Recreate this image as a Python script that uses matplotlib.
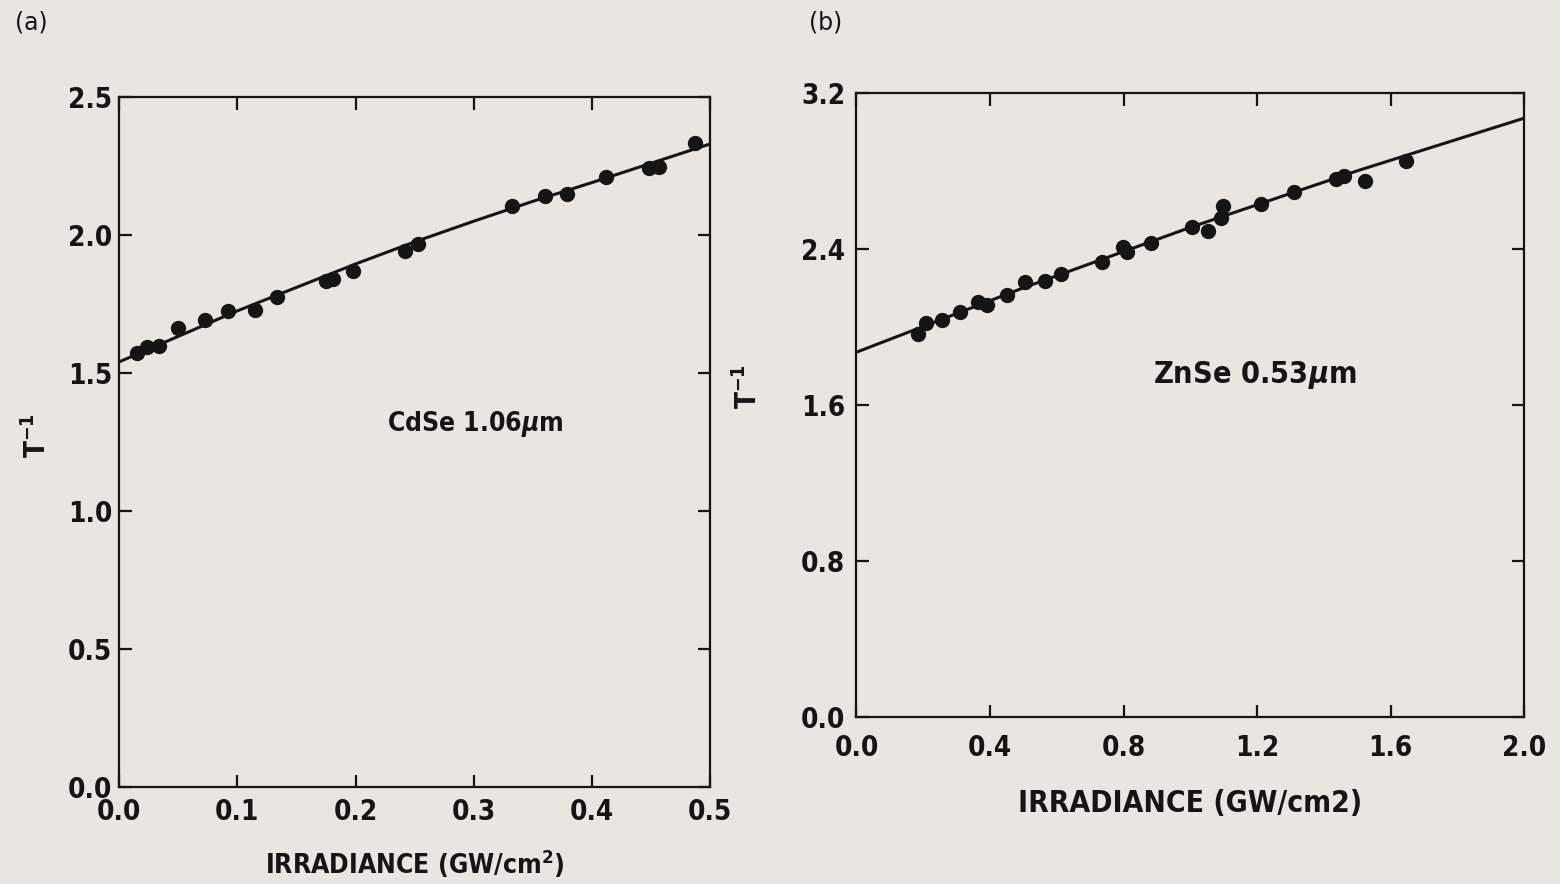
import numpy as np
import matplotlib.pyplot as plt

# (a) CdSe at 1.06 um
cdse_x = [0.015, 0.024, 0.034, 0.050, 0.073, 0.092, 0.115, 0.134, 0.175, 0.181,
          0.198, 0.242, 0.253, 0.332, 0.360, 0.379, 0.412, 0.448, 0.457, 0.487]
cdse_y = [1.572, 1.593, 1.599, 1.663, 1.693, 1.726, 1.730, 1.775, 1.833, 1.841,
          1.869, 1.942, 1.966, 2.106, 2.140, 2.148, 2.209, 2.243, 2.248, 2.334]
cdse_fit_x = [0.0, 0.1, 0.2, 0.25, 0.3, 0.35, 0.4, 0.5]
cdse_fit_y = [1.54, 1.725, 1.895, 1.975, 2.05, 2.122, 2.19, 2.33]

# (b) ZnSe at 0.53 um
znse_x = [0.183, 0.208, 0.257, 0.309, 0.363, 0.392, 0.452, 0.505, 0.566, 0.613,
          0.736, 0.799, 0.811, 0.882, 1.006, 1.052, 1.092, 1.098, 1.213, 1.310,
          1.436, 1.459, 1.522, 1.645]
znse_y = [1.965, 2.019, 2.036, 2.078, 2.130, 2.113, 2.164, 2.232, 2.237, 2.272,
          2.335, 2.412, 2.386, 2.432, 2.514, 2.489, 2.557, 2.621, 2.631, 2.689,
          2.758, 2.774, 2.750, 2.848]
znse_fit_x = [0.0, 0.5, 1.0, 1.5, 2.0]
znse_fit_y = [1.87, 2.20, 2.51, 2.80, 3.07]

bg = '#e9e5e0'
ink = '#151515'
plt.rcParams['font.family'] = ['DejaVu Sans']
plt.rcParams['font.stretch'] = 'condensed'
plt.rcParams['font.weight'] = 'bold'
plt.rcParams['axes.labelweight'] = 'bold'
plt.rcParams['mathtext.fontset'] = 'dejavusans'
plt.rcParams['mathtext.default'] = 'bf'

fig = plt.figure(figsize=(15.6, 8.84), dpi=100, facecolor=bg)
ax1 = fig.add_axes([0.0763, 0.1097, 0.379, 0.7806])
ax2 = fig.add_axes([0.549, 0.189, 0.428, 0.706])


def style(ax):
    ax.set_facecolor(bg)
    for s in ax.spines.values():
        s.set_linewidth(1.6)
        s.set_color(ink)
    ax.tick_params(direction='in', length=9, width=1.6, color=ink,
                   top=True, right=True, labelsize=20, labelcolor=ink)


#####################################################################
# panel (a)
#####################################################################
style(ax1)
ax1.plot(cdse_fit_x, cdse_fit_y, color=ink, lw=2.2)
ax1.plot(cdse_x, cdse_y, 'o', color=ink, ms=10)
ax1.set_xlim(0, 0.5)
ax1.set_ylim(0, 2.5)
ax1.set_xticks([0.0, 0.1, 0.2, 0.3, 0.4, 0.5])
ax1.set_yticks([0.0, 0.5, 1.0, 1.5, 2.0, 2.5])
ax1.xaxis.set_major_formatter(plt.FormatStrFormatter('%.1f'))
ax1.yaxis.set_major_formatter(plt.FormatStrFormatter('%.1f'))
ax1.tick_params(axis='x', pad=8)
ax1.tick_params(axis='y', pad=5)
ax1.set_xlabel('IRRADIANCE (GW/cm$^2$)', fontsize=19, color=ink)
ax1.xaxis.set_label_coords(0.5, -0.087)
ax1.set_ylabel('T$^{-1}$', fontsize=20, color=ink)
ax1.yaxis.set_label_coords(-0.113, 0.51)
ax1.text(0.301, 1.317, 'CdSe 1.06$\\mathit{\\mu}$m', fontsize=19, color=ink,
         ha='center', va='center')

#####################################################################
# panel (b)
#####################################################################
style(ax2)
ax2.plot(znse_fit_x, znse_fit_y, color=ink, lw=2.2)
ax2.plot(znse_x, znse_y, 'o', color=ink, ms=10)
ax2.set_xlim(0, 2.0)
ax2.set_ylim(0, 3.2)
ax2.set_xticks([0.0, 0.4, 0.8, 1.2, 1.6, 2.0])
ax2.set_yticks([0.0, 0.8, 1.6, 2.4, 3.2])
ax2.xaxis.set_major_formatter(plt.FormatStrFormatter('%.1f'))
ax2.yaxis.set_major_formatter(plt.FormatStrFormatter('%.1f'))
ax2.tick_params(axis='x', pad=12)
ax2.tick_params(axis='y', pad=8)
ax2.set_xlabel('IRRADIANCE (GW/cm2)', fontsize=21.5, color=ink)
ax2.xaxis.set_label_coords(0.5, -0.115)
ax2.set_ylabel('T$^{-1}$', fontsize=20, color=ink)
ax2.yaxis.set_label_coords(-0.14, 0.53)
ax2.text(1.193, 1.754, 'ZnSe 0.53$\\mathit{\\mu}$m', fontsize=22, color=ink,
         ha='center', va='center')

fig.text(0.02, 0.975, '(a)', fontsize=17, weight='normal', stretch='normal',
         color=ink, ha='center', va='center')
fig.text(0.529, 0.975, '(b)', fontsize=17, weight='normal', stretch='normal',
         color=ink, ha='center', va='center')

plt.savefig('out.png', dpi=100, facecolor=bg)
